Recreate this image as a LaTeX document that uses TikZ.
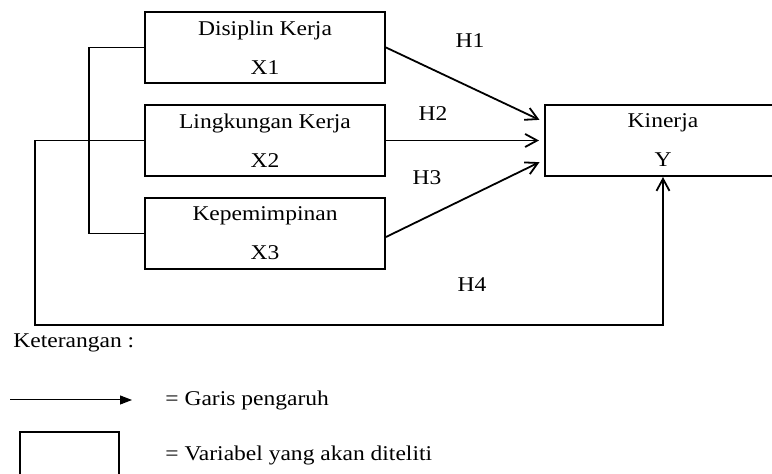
\documentclass[tikz,border=0pt]{standalone}
\usepackage{fontspec}
\setmainfont{Liberation Serif}[FakeStretch=1.12]
\usepackage{tikz}
\usetikzlibrary{
  arrows.meta,
  positioning,
  calc,
}

\begin{document}
\begin{tikzpicture}[
  x=0.5pt, y=-0.5pt,
  font=\fontsize{10.5}{19.5}\selectfont,
  every node/.style={align=center, inner sep=0pt},
  varbox/.style={draw=black, line width=1pt,
                 minimum width=120pt, minimum height=35.5pt},
  arrow/.style={-{Straight Barb[length=6pt,width=6.5pt]}, line width=0.9pt,
                shorten >=2.5pt},
  link/.style={line width=0.9pt},
]
\useasboundingbox (0,0) rectangle (772,474);

% variabel bebas dan terikat
\foreach \n/\t/\y in {1/Disiplin Kerja/47.5,2/Lingkungan Kerja/140.5,3/Kepemimpinan/233.5}{
  \node[varbox] (X\n) at (265,\y) {\t\\X\n};
}
\node[varbox, minimum width=118pt] (Y) at (663,140.5) {Kinerja\\Y};

\draw[link] (X1.west) -- ++(-55,0) |- (X3.west);
\coordinate (loop) at (35,325);
\draw[arrow, shorten >=0pt] (X2.west) -| (loop) -| (Y.south);

\draw[arrow] (X1.east) -- ($(Y.west)+(0,-18.5)$);
\draw[arrow] (X2.east) -- (Y.west);
\draw[arrow] ($(X3.east)+(0,3.5)$) -- ($(Y.west)+(0,19.5)$);

\node (H1) at (470,41) {H1};
\node (H2) at (433,114) {H2};
\node (H3) at (427,178) {H3};
\node (H4) at (472,285) {H4};

% keterangan
\node[anchor=west] (ket) at (13,343) {Keterangan :};
\coordinate (la) at (10,400);
\coordinate (lb) at (132,400);
\draw[-{Triangle[length=6pt,width=4.5pt]}, line width=0.5pt] (la) -- (lb);
\node[anchor=west] (garis) at (165,400) {= Garis pengaruh};
\node[draw=black, line width=1pt, minimum width=49.5pt, minimum height=25pt]
  (legbox) at (69.5,457) {};
\node[anchor=west] (var) at (165,455) {= Variabel yang akan diteliti};

\end{tikzpicture}
\end{document}
